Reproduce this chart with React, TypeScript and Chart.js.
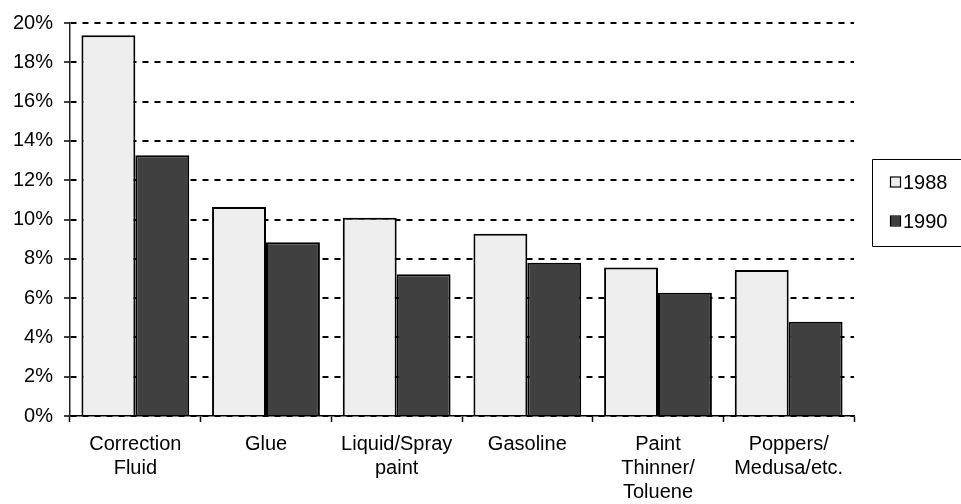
import React, { useEffect, useRef } from "react";
import { Chart, registerables } from "chart.js";

Chart.register(...registerables);

const categories: (string | string[])[] = [
  ["Correction", "Fluid"],
  ["Glue"],
  ["Liquid/Spray", "paint"],
  ["Gasoline"],
  ["Paint", "Thinner/", "Toluene"],
  ["Poppers/", "Medusa/etc."],
];
const series1988 = [19.38, 10.63, 10.09, 9.27, 7.56, 7.43];
const series1990 = [13.27, 8.84, 7.22, 7.8, 6.27, 4.8];
const seriesLabels = ["1988", "1990"];
const yTicks = [0, 2, 4, 6, 8, 10, 12, 14, 16, 18, 20];

const FONT = '"Liberation Sans", Arial, Helvetica, sans-serif';
const fill1988 = "#eeeeee";
const fill1990 = "#404040";

const legendPlugin = {
  id: "boxLegend",
  afterDraw(chart: any) {
    const ctx = chart.ctx as CanvasRenderingContext2D;
    ctx.save();
    ctx.strokeStyle = "#000";
    ctx.lineWidth = 1;
    ctx.beginPath();
    ctx.moveTo(962, 159.5);
    ctx.lineTo(872.5, 159.5);
    ctx.lineTo(872.5, 246.5);
    ctx.lineTo(962, 246.5);
    ctx.stroke();
    const ys = [182, 221];
    chart.data.datasets.forEach((ds: any, i: number) => {
      const y = ys[i];
      ctx.fillStyle = ds.backgroundColor;
      ctx.fillRect(891, y - 4.5, 9, 9);
      ctx.strokeStyle = "#000";
      ctx.lineWidth = 1.2;
      ctx.strokeRect(890.5, y - 5, 10, 10);
      ctx.fillStyle = "#000";
      ctx.font = `20px ${FONT}`;
      ctx.textBaseline = "middle";
      ctx.textAlign = "left";
      ctx.fillText(ds.label, 903, y + 1);
    });
    ctx.restore();
  },
};

export default function App() {
  const ref = useRef<HTMLCanvasElement | null>(null);
  useEffect(() => {
    if (!ref.current) return;
    Chart.defaults.font.family = FONT;
    const chart = new Chart(ref.current, {
      type: "bar",
      data: {
        labels: categories,
        datasets: [
          {
            label: seriesLabels[0],
            data: series1988,
            backgroundColor: fill1988,
            borderColor: "#000",
            borderWidth: 2,
            categoryPercentage: 0.825,
            barPercentage: 1,
          },
          {
            label: seriesLabels[1],
            data: series1990,
            backgroundColor: fill1990,
            borderColor: "#000",
            borderWidth: 2,
            categoryPercentage: 0.825,
            barPercentage: 1,
          },
        ],
      },
      options: {
        responsive: false,
        animation: false,
        layout: { padding: { top: 22, right: 107, left: 0, bottom: 0 } },
        plugins: { legend: { display: false }, tooltip: { enabled: false } },
        scales: {
          x: {
            afterFit: (s: any) => {
              s.height = 88;
            },
            grid: {
              display: true,
              drawOnChartArea: false,
              drawTicks: true,
              tickLength: 6,
              tickColor: "#000",
              tickWidth: 1.5,
              offset: true,
              color: "#000",
            },
            border: { display: true, color: "#000", width: 1.5 },
            ticks: {
              color: "#000",
              font: { size: 20, family: FONT, lineHeight: 1.2 },
              padding: 10,
              maxRotation: 0,
              autoSkip: false,
            },
          },
          y: {
            min: 0,
            max: 20,
            afterFit: (s: any) => {
              s.width = 70;
            },
            afterBuildTicks: (s: any) => {
              s.ticks = yTicks.map((v) => ({ value: v }));
            },
            grid: {
              color: "#000",
              lineWidth: 2,
              drawTicks: true,
              tickLength: 6,
              tickColor: "#000",
              tickWidth: 1.5,
            },
            border: { display: true, color: "#222", width: 1.5, dash: [6, 6] },
            ticks: {
              color: "#000",
              font: { size: 20, family: FONT },
              padding: 11,
              callback: (v: any) => `${v}%`,
            },
          },
        },
      },
      plugins: [legendPlugin],
    });
    return () => chart.destroy();
  }, []);
  return (
    <div style={{ position: "fixed", left: 0, top: 0, width: 961, height: 504, background: "#fff" }}>
      <canvas ref={ref} width={961} height={504} style={{ width: 961, height: 504, display: "block" }} />
    </div>
  );
}
